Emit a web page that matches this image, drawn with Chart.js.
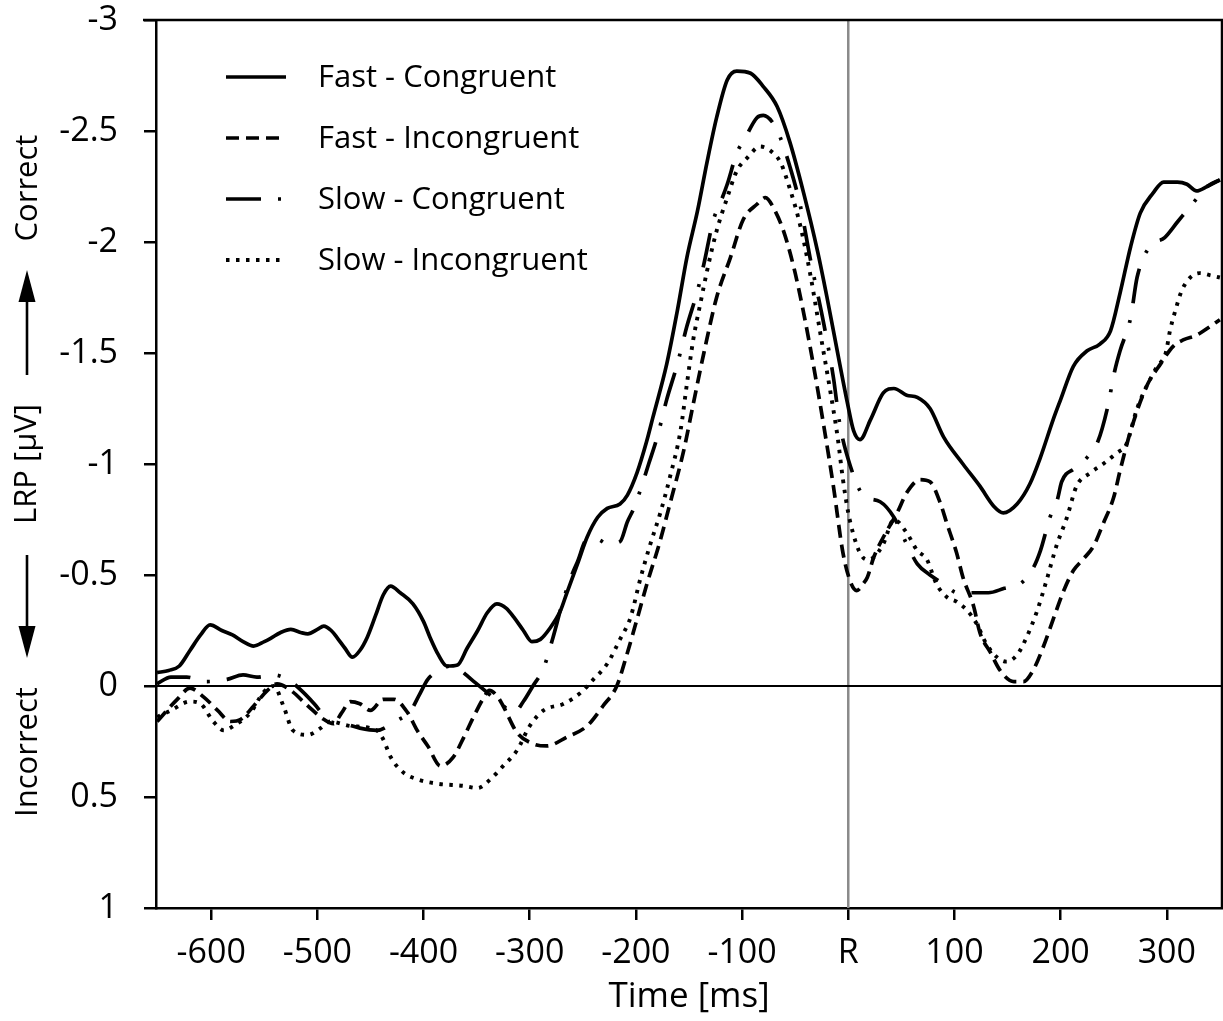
<!DOCTYPE html>
<html>
<head>
<meta charset="utf-8">
<script src="https://cdn.jsdelivr.net/npm/chart.js@4.4.1/dist/chart.umd.min.js"></script>
<style>
  html, body { margin: 0; padding: 0; background: #ffffff; }
  #wrap { width: 1223px; height: 1021px; }
</style>
</head>
<body>
<div id="wrap"><canvas id="c" width="1223" height="1021"></canvas></div>
<script>
// ---------------- DATA ----------------
const seriesLabels = ['Fast - Congruent', 'Fast - Incongruent', 'Slow - Congruent', 'Slow - Incongruent'];

const xTickValues = [-600, -500, -400, -300, -200, -100, 0, 100, 200, 300];
const xTickLabels = ['-600', '-500', '-400', '-300', '-200', '-100', 'R', '100', '200', '300'];
const yTickValues = [-3, -2.5, -2, -1.5, -1, -0.5, 0, 0.5, 1];
const yTickLabels = ['-3', '-2.5', '-2', '-1.5', '-1', '-0.5', '0', '0.5', '1'];

// Fast - Congruent (solid)
const fcTime = [-651,-640,-630,-620,-610,-601,-590,-580,-570,-560,
  -550,-544,-535,-525,-515,-509,-500,-494,-487,-481,
  -474,-467,-460,-453,-445,-438,-431,-422,-410,-400,
  -394,-386,-378,-368,-359,-349,-340,-331,-322,-315,
  -306,-298,-290,-281,-271,-265,-255,-246,-236,-227,
  -215,-208,-199,-190,-184,-171,-161,-152,-142,-133,
  -124,-114,-105,-92,-80,-67,-55,-42,-29,-20,
  -8,-1,5,11,21,33,43,55,65,77,
  90,108,124,137,146,159,171,181,193,200,
  212,225,237,247,256,266,275,287,297,310,
  319,328,338,350];
const fcValue = [-0.06,-0.07,-0.09,-0.16,-0.23,-0.275,-0.25,-0.23,-0.2,-0.18,
  -0.2,-0.215,-0.24,-0.255,-0.24,-0.235,-0.255,-0.27,-0.25,-0.215,
  -0.17,-0.13,-0.16,-0.22,-0.32,-0.41,-0.45,-0.42,-0.37,-0.29,
  -0.22,-0.14,-0.09,-0.095,-0.17,-0.25,-0.33,-0.37,-0.35,-0.31,
  -0.25,-0.2,-0.21,-0.26,-0.34,-0.42,-0.55,-0.67,-0.76,-0.8,
  -0.82,-0.86,-0.96,-1.1,-1.21,-1.45,-1.69,-1.93,-2.14,-2.36,
  -2.56,-2.73,-2.77,-2.76,-2.7,-2.61,-2.45,-2.22,-1.96,-1.75,
  -1.45,-1.28,-1.15,-1.11,-1.2,-1.32,-1.34,-1.31,-1.3,-1.25,
  -1.12,-1.0,-0.9,-0.81,-0.78,-0.82,-0.91,-1.03,-1.2,-1.29,
  -1.44,-1.51,-1.54,-1.6,-1.77,-1.98,-2.13,-2.22,-2.27,-2.27,
  -2.26,-2.23,-2.25,-2.28];

// Fast - Incongruent (dashed)
const fiTime = [-651,-632,-620,-607,-594,-582,-572,-560,-547,-538,
  -525,-509,-494,-485,-477,-469,-460,-450,-438,-428,
  -415,-406,-396,-384,-372,-362,-353,-343,-338,-330,
  -325,-312,-297,-284,-265,-246,-231,-218,-208,-199,
  -189,-178,-168,-155,-146,-136,-124,-111,-99,-86,
  -78,-70,-61,-51,-42,-33,-23,-14,-5,2,
  8,14,18,24,33,46,55,68,77,87,
  93,102,108,118,124,134,143,156,165,174,
  184,193,203,212,221,231,240,250,256,266,
  281,294,306,316,328,341,350];
const fiValue = [0.16,0.06,0.01,0.05,0.11,0.16,0.15,0.09,0.02,-0.01,
  0.02,0.09,0.15,0.17,0.12,0.07,0.08,0.11,0.06,0.06,
  0.12,0.2,0.27,0.36,0.32,0.23,0.14,0.05,0.02,0.05,
  0.09,0.21,0.26,0.27,0.23,0.18,0.09,0.0,-0.15,-0.3,
  -0.47,-0.64,-0.82,-1.06,-1.27,-1.5,-1.75,-1.93,-2.1,-2.17,
  -2.2,-2.15,-2.05,-1.88,-1.68,-1.45,-1.17,-0.9,-0.6,-0.47,
  -0.43,-0.46,-0.49,-0.58,-0.67,-0.78,-0.87,-0.93,-0.92,-0.82,
  -0.73,-0.6,-0.49,-0.36,-0.24,-0.15,-0.07,-0.02,-0.02,-0.07,
  -0.18,-0.3,-0.43,-0.52,-0.57,-0.63,-0.73,-0.85,-0.97,-1.15,
  -1.35,-1.45,-1.53,-1.56,-1.58,-1.62,-1.65];

// Slow - Congruent (dash-dot)
const scTime = [-651,-638,-623,-604,-585,-570,-557,-541,-525,-513,
  -503,-488,-475,-460,-444,-427,-412,-404,-396,-385,
  -375,-368,-355,-340,-325,-315,-306,-297,-287,-278,
  -270,-262,-255,-246,-236,-227,-215,-208,-202,-196,
  -188,-180,-171,-161,-152,-142,-136,-127,-121,-114,
  -105,-97,-86,-80,-70,-64,-55,-45,-36,-23,
  -14,-8,2,14,30,43,55,65,77,90,
  103,121,132,147,162,174,181,190,197,201,
  213,225,235,244,251,256,266,272,284,298,
  310,329,338,350];
const scValue = [-0.01,-0.04,-0.04,-0.02,-0.03,-0.05,-0.04,-0.05,-0.02,0.03,
  0.08,0.16,0.17,0.19,0.2,0.16,0.11,0.04,-0.03,-0.07,
  -0.09,-0.08,-0.03,0.03,0.09,0.12,0.07,0.0,-0.08,-0.22,
  -0.36,-0.48,-0.56,-0.66,-0.66,-0.64,-0.65,-0.74,-0.8,-0.88,
  -1.0,-1.12,-1.29,-1.45,-1.62,-1.78,-1.9,-2.1,-2.17,-2.26,
  -2.4,-2.47,-2.56,-2.57,-2.53,-2.47,-2.34,-2.16,-1.93,-1.63,
  -1.39,-1.18,-0.99,-0.86,-0.83,-0.76,-0.64,-0.55,-0.5,-0.46,
  -0.42,-0.42,-0.42,-0.44,-0.46,-0.53,-0.61,-0.76,-0.84,-0.92,
  -0.98,-1.03,-1.1,-1.25,-1.42,-1.51,-1.66,-1.84,-1.98,-2.02,
  -2.09,-2.2,-2.25,-2.28];

// Slow - Incongruent (dotted)
const siTime = [-651,-638,-620,-610,-598,-588,-579,-563,-551,-541,
  -532,-523,-509,-497,-488,-469,-444,-438,-431,-419,
  -406,-387,-362,-349,-337,-325,-312,-300,-287,-268,
  -252,-240,-227,-215,-205,-196,-187,-177,-168,-158,
  -152,-146,-139,-133,-124,-114,-105,-95,-83,-73,
  -64,-55,-45,-36,-26,-17,-10,-5,0,5,
  11,17,24,33,43,55,65,74,83,93,
  102,112,121,130,140,149,159,168,178,187,
  196,206,215,228,240,253,262,272,281,291,
  299,303,308,314,322,331,341,350];
const siValue = [0.14,0.11,0.07,0.08,0.16,0.2,0.18,0.12,0.03,0.0,
  0.09,0.2,0.22,0.19,0.16,0.18,0.2,0.24,0.32,0.39,
  0.42,0.44,0.45,0.46,0.42,0.36,0.29,0.18,0.11,0.08,
  0.03,-0.03,-0.1,-0.21,-0.31,-0.48,-0.63,-0.78,-0.94,-1.15,
  -1.36,-1.56,-1.73,-1.87,-2.05,-2.2,-2.32,-2.38,-2.43,-2.41,
  -2.36,-2.24,-2.07,-1.86,-1.58,-1.33,-1.12,-0.93,-0.78,-0.68,
  -0.6,-0.57,-0.58,-0.64,-0.75,-0.69,-0.61,-0.57,-0.46,-0.4,
  -0.38,-0.34,-0.28,-0.19,-0.13,-0.11,-0.14,-0.22,-0.34,-0.48,
  -0.63,-0.76,-0.9,-0.96,-1.0,-1.05,-1.09,-1.25,-1.35,-1.44,
  -1.5,-1.6,-1.69,-1.78,-1.84,-1.86,-1.85,-1.84];

// ---------------- CHART ----------------
const FONT = '"Open Sans", "DejaVu Sans", sans-serif';
const X_MIN = -652, X_MAX = 352;

function pts(t, v) {
  const n = Math.min(t.length, v.length);
  const out = [];
  for (let i = 0; i < n; i++) out.push({ x: t[i], y: v[i] });
  return out;
}

const dashPatterns = [[], [13, 7], [35, 17, 3, 17], [3.5, 6.5]];
const widths = [3.7, 3.7, 3.7, 3.9];

const datasets = [
  pts(fcTime, fcValue), pts(fiTime, fiValue), pts(scTime, scValue), pts(siTime, siValue)
].map((d, i) => ({
  label: seriesLabels[i],
  data: d,
  borderColor: '#000',
  borderWidth: widths[i],
  borderDash: dashPatterns[i],
  pointRadius: 0,
  fill: false,
  cubicInterpolationMode: 'monotone'
}));

const refLines = {
  id: 'refLines',
  beforeDatasetsDraw(chart) {
    const { ctx, chartArea: a, scales: { x, y } } = chart;
    ctx.save();
    const xr = x.getPixelForValue(0);
    ctx.strokeStyle = '#8a8a8a';
    ctx.lineWidth = 2.5;
    ctx.beginPath(); ctx.moveTo(xr, a.top); ctx.lineTo(xr, a.bottom); ctx.stroke();
    const y0 = y.getPixelForValue(0);
    ctx.strokeStyle = '#000';
    ctx.lineWidth = 2;
    ctx.beginPath(); ctx.moveTo(a.left, y0); ctx.lineTo(a.right, y0); ctx.stroke();
    ctx.restore();
  }
};

const frame = {
  id: 'frame',
  afterDraw(chart) {
    const { ctx, chartArea: a } = chart;
    ctx.save();
    ctx.strokeStyle = '#000';
    ctx.lineWidth = 2.5;
    ctx.beginPath();
    ctx.moveTo(a.left - 13, a.top);
    ctx.lineTo(a.right, a.top);
    ctx.lineTo(a.right, a.bottom);
    ctx.stroke();
    ctx.restore();
  }
};

const legendInside = {
  id: 'legendInside',
  afterDraw(chart) {
    const { ctx, chartArea: a } = chart;
    ctx.save();
    chart.data.datasets.forEach((ds, i) => {
      const yy = a.top + 57 + i * 61;
      const x0 = a.left + 70, x1 = a.left + 130;
      ctx.strokeStyle = '#000';
      ctx.lineWidth = ds.borderWidth;
      ctx.setLineDash(ds.borderDash || []);
      ctx.beginPath(); ctx.moveTo(x0, yy); ctx.lineTo(x1, yy); ctx.stroke();
      ctx.setLineDash([]);
      ctx.fillStyle = '#000';
      ctx.font = '31px ' + FONT;
      ctx.textAlign = 'left';
      ctx.textBaseline = 'middle';
      ctx.fillText(ds.label, a.left + 162, yy + 1);
    });
    ctx.restore();
  }
};

const sideLabels = {
  id: 'sideLabels',
  afterDraw(chart) {
    const { ctx } = chart;
    const cx = 28;
    ctx.save();
    ctx.fillStyle = '#000';
    ctx.strokeStyle = '#000';
    ctx.font = '31px ' + FONT;
    ctx.textAlign = 'center';
    ctx.textBaseline = 'middle';
    const rotText = (txt, cy) => {
      ctx.save(); ctx.translate(cx, cy); ctx.rotate(-Math.PI / 2);
      ctx.fillText(txt, 0, 0); ctx.restore();
    };
    rotText('Correct', 188);
    rotText('Incorrect', 752);
    const arrow = (yTail, yTip) => {
      const dir = Math.sign(yTip - yTail);
      const headLen = 32, headW = 8.5;
      ctx.lineWidth = 2.6;
      ctx.beginPath(); ctx.moveTo(cx - 1, yTail); ctx.lineTo(cx - 1, yTip - dir * headLen + dir * 2); ctx.stroke();
      ctx.beginPath();
      ctx.moveTo(cx - 1, yTip);
      ctx.lineTo(cx - 1 - headW, yTip - dir * headLen);
      ctx.lineTo(cx - 1 + headW, yTip - dir * headLen);
      ctx.closePath(); ctx.fill();
    };
    arrow(375, 270);
    arrow(555, 658);
    ctx.restore();
  }
};

new Chart(document.getElementById('c'), {
  type: 'line',
  data: { datasets },
  plugins: [refLines, frame, legendInside, sideLabels],
  options: {
    responsive: false,
    animation: false,
    devicePixelRatio: 1,
    layout: { padding: { left: 0, right: 1, top: 20, bottom: 0 } },
    plugins: { legend: { display: false }, tooltip: { enabled: false } },
    scales: {
      x: {
        type: 'linear', min: X_MIN, max: X_MAX,
        afterBuildTicks: (s) => { s.ticks = xTickValues.map(v => ({ value: v })); },
        afterFit: (s) => { s.height = 113; s.paddingLeft = 0; s.paddingRight = 0; },
        ticks: {
          autoSkip: false, maxRotation: 0, minRotation: 0, padding: 13, color: '#000',
          font: { family: FONT, size: 34 },
          callback: (v, i) => xTickLabels[i]
        },
        grid: { display: true, drawOnChartArea: false, drawTicks: true, tickLength: 12, color: '#000', lineWidth: 2.5 },
        border: { display: true, color: '#000', width: 2.5 },
        title: { display: true, text: 'Time [ms]', color: '#000', font: { family: FONT, size: 35 }, padding: { top: 0, bottom: 3 } }
      },
      y: {
        type: 'linear', min: -3, max: 1, reverse: true,
        afterBuildTicks: (s) => { s.ticks = yTickValues.map(v => ({ value: v })); },
        afterFit: (s) => { s.width = 156; s.paddingTop = 0; s.paddingBottom = 0; },
        ticks: {
          padding: 26, color: '#000',
          font: { family: FONT, size: 34 },
          callback: (v, i) => yTickLabels[i]
        },
        grid: { display: true, drawOnChartArea: false, drawTicks: true, tickLength: 12, color: '#000', lineWidth: 2.5 },
        border: { display: true, color: '#000', width: 2.5 },
        title: { display: true, text: 'LRP [µV]', color: '#000', font: { family: FONT, size: 31 }, padding: { top: 9, bottom: 0 } }
      }
    }
  }
});
</script>
</body>
</html>
